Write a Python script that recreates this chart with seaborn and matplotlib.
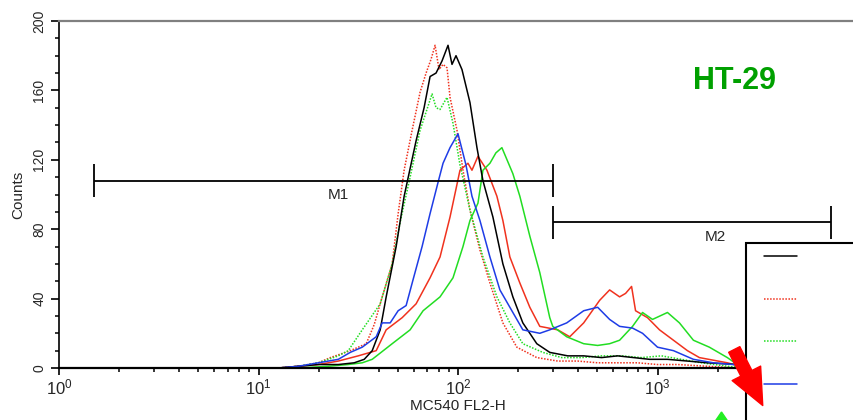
import matplotlib
matplotlib.use("Agg")
import matplotlib.pyplot as plt
from matplotlib.patches import FancyArrowPatch, Polygon
from matplotlib.lines import Line2D
from matplotlib.legend_handler import HandlerLine2D
from matplotlib.ticker import FixedLocator, LogLocator, MultipleLocator
import seaborn as sns
import pandas as pd
import numpy as np

# ---- data (x as log10 of FL2-H channel, y = counts) ----
black_log = [0.0, 1.10, 1.20, 1.30, 1.40, 1.48, 1.53, 1.57, 1.61, 1.64, 1.69, 1.73, 1.79, 1.83,
             1.86, 1.89, 1.92, 1.95, 1.97, 1.99, 2.02, 2.06, 2.095, 2.125, 2.175, 2.225, 2.275,
             2.325, 2.395, 2.46, 2.55, 2.63, 2.72, 2.80, 2.88, 2.96, 3.05, 3.15, 3.25, 3.40, 3.55]
black_cnt = [0, 0, 1, 2, 2, 3, 5, 10, 22, 41, 70, 99, 131, 150, 168, 170, 177, 186, 175, 180,
             172, 153, 127, 108, 87, 60, 41, 26, 14, 9, 7, 7, 6, 7, 6, 5, 5, 4, 3, 2, 0]

reddot_log = [0.0, 1.10, 1.20, 1.30, 1.36, 1.46, 1.54, 1.58, 1.62, 1.67, 1.70, 1.73, 1.77, 1.81,
              1.84, 1.865, 1.885, 1.905, 1.925, 1.945, 1.96, 1.995, 2.025, 2.06, 2.11, 2.16,
              2.225, 2.295, 2.395, 2.50, 2.60, 2.70, 2.80, 2.90, 3.00, 3.10, 3.25, 3.40]
reddot_cnt = [0, 0, 1, 3, 6, 10, 14, 25, 41, 60, 89, 114, 137, 159, 170, 178, 186, 172, 175, 173,
              156, 137, 114, 91, 68, 49, 26, 12, 6, 4, 4, 3, 3, 3, 2, 2, 1, 0]

greendot_log = [0.0, 1.10, 1.20, 1.30, 1.40, 1.45, 1.52, 1.61, 1.67, 1.71, 1.76, 1.81, 1.87, 1.89,
                1.91, 1.945, 1.975, 2.01, 2.06, 2.125, 2.195, 2.26, 2.325, 2.425, 2.52, 2.62,
                2.72, 2.82, 2.92, 3.02, 3.12, 3.22, 3.35, 3.45]
greendot_cnt = [0, 0, 1, 3, 7, 10, 22, 37, 60, 84, 110, 137, 158, 150, 149, 156, 141, 117, 91,
                64, 41, 26, 14, 9, 6, 6, 7, 7, 6, 7, 5, 3, 1, 0]

blue_log = [0.0, 1.10, 1.20, 1.30, 1.40, 1.46, 1.52, 1.59, 1.62, 1.66, 1.70, 1.74, 1.775, 1.82,
            1.86, 1.90, 1.925, 1.96, 2.00, 2.04, 2.07, 2.11, 2.16, 2.21, 2.275, 2.325, 2.41,
            2.46, 2.545, 2.63, 2.70, 2.76, 2.81, 2.875, 2.925, 3.00, 3.08, 3.18, 3.28, 3.38, 3.50]
blue_cnt = [0, 0, 1, 3, 5, 9, 12, 18, 26, 26, 33, 36, 51, 70, 89, 107, 118, 127, 135, 117, 99,
            85, 64, 45, 32, 22, 20, 22, 26, 33, 35, 28, 24, 23, 20, 12, 10, 5, 3, 2, 0]

red_log = [0.0, 1.10, 1.20, 1.30, 1.40, 1.50, 1.59, 1.64, 1.72, 1.79, 1.86, 1.91, 1.96, 2.01,
           2.05, 2.07, 2.10, 2.145, 2.195, 2.225, 2.26, 2.31, 2.36, 2.41, 2.50, 2.56, 2.63,
           2.71, 2.76, 2.81, 2.84, 2.87, 2.89, 2.95, 3.01, 3.08, 3.15, 3.21, 3.35, 3.45]
red_cnt = [0, 0, 1, 2, 4, 7, 10, 22, 29, 37, 52, 64, 87, 114, 118, 114, 122, 114, 99, 85, 64,
           49, 35, 24, 22, 18, 26, 39, 45, 41, 43, 47, 33, 29, 22, 16, 10, 6, 3, 0]

green_log = [0.0, 1.20, 1.35, 1.45, 1.52, 1.57, 1.67, 1.76, 1.825, 1.91, 1.975, 2.025, 2.06,
             2.10, 2.125, 2.16, 2.19, 2.22, 2.275, 2.31, 2.36, 2.41, 2.46, 2.475, 2.545, 2.63,
             2.70, 2.76, 2.81, 2.875, 2.925, 2.975, 3.05, 3.11, 3.18, 3.26, 3.35, 3.40, 3.50]
green_cnt = [0, 0, 1, 2, 3, 5, 14, 22, 33, 41, 52, 70, 85, 95, 114, 118, 124, 127, 112, 99, 76,
             55, 29, 24, 18, 14, 13, 14, 16, 24, 32, 28, 32, 26, 16, 12, 6, 2, 0]

# marker gates M1 / M2: (start, end) in FL2-H, bar level and label position
m1_range = (1.5, 299)
m1_level = 108
m1_label_x = 25
m2_range = (299, 7400)
m2_level = 84
m2_label_x = 1950

x_ticks = [1, 10, 100, 1000]
y_ticks = [0, 40, 80, 120, 160, 200]

series = [
    ("ctrl", black_log, black_cnt, "#000000", "-"),
    ("ctrl dotted", reddot_log, reddot_cnt, "#F0321E", (0, (1, 1))),
    ("ctrl green", greendot_log, greendot_cnt, "#22DD22", (0, (1, 1))),
    ("blue", blue_log, blue_cnt, "#1E3CE6", "-"),
    ("red", red_log, red_cnt, "#F0321E", "-"),
    ("green", green_log, green_cnt, "#22DD22", "-"),
]

sns.set_theme(style="ticks")
plt.rcParams["font.family"] = ["Liberation Sans", "DejaVu Sans"]

fig = plt.figure(figsize=(8.54, 4.20), dpi=100)
ax = fig.add_axes([59 / 854, 52 / 420, 798 / 854, 347 / 420])

handles = {}
draw_order = ["ctrl dotted", "ctrl green", "red", "green", "ctrl", "blue"]
lookup = {s[0]: s for s in series}
for name in draw_order:
    _, lx, cnt, col, ls = lookup[name]
    df = pd.DataFrame({"fl2": np.power(10.0, lx), "count": cnt})
    n_before = len(ax.lines)
    sns.lineplot(data=df, x="fl2", y="count", ax=ax, color=col, linestyle=ls,
                 linewidth=1.1, legend=False, errorbar=None)
    handles[name] = ax.lines[n_before]

ax.set_xscale("log")
ax.set_xlim(1, 1e4)
ax.set_ylim(0, 200)

# gates
cap = 9.5
for (a, b), lvl, lx_, lab in [(m1_range, m1_level, m1_label_x, "M1"),
                              (m2_range, m2_level, m2_label_x, "M2")]:
    ax.hlines(lvl, a, b, color="black", lw=1.3)
    ax.vlines([a, b], lvl - cap, lvl + cap, color="black", lw=1.3)
    ax.text(lx_, lvl - 4.5, lab, ha="center", va="top", fontsize=11)

ax.yaxis.set_major_locator(FixedLocator(y_ticks))
ax.yaxis.set_minor_locator(MultipleLocator(10))
ax.xaxis.set_major_locator(FixedLocator(x_ticks))
ax.xaxis.set_minor_locator(LogLocator(base=10, subs=np.arange(2, 10), numticks=20))
ax.set_xticklabels([rf"$\mathdefault{{10^{{{int(np.log10(t))}}}}}$" for t in x_ticks])
ax.set_yticklabels([str(t) for t in y_ticks], rotation=90, va="center")
ax.tick_params(axis="y", which="major", length=6, width=1.2, labelsize=10, pad=3, color="black")
ax.tick_params(axis="y", which="minor", length=3, width=1.1, color="black")
ax.tick_params(axis="x", which="major", length=5, width=1.2, labelsize=12, pad=2, color="black")
ax.tick_params(axis="x", which="minor", length=3, width=1.1, color="black")

ax.set_xlabel("MC540 FL2-H", fontsize=11, labelpad=1)
ax.set_ylabel("Counts", fontsize=11, labelpad=5)

ax.spines["right"].set_visible(False)
ax.spines["top"].set_color("#808080")
ax.spines["top"].set_linewidth(1.6)
ax.spines["left"].set_color("black")
ax.spines["left"].set_linewidth(1.2)
ax.spines["bottom"].set_color("black")
ax.spines["bottom"].set_linewidth(1.6)
ax.grid(False)

fig.text(735 / 854, 1 - 81 / 420, "HT-29", color="#00A000", fontsize=22,
         fontweight="bold", ha="center", va="center")

leg_order = ["ctrl", "ctrl dotted", "ctrl green", "blue", "red", "green"]
leg = fig.legend([handles[k] for k in leg_order], [""] * len(leg_order),
                 loc="upper left", bbox_to_anchor=(746 / 854, 1 - 243 / 420),
                 bbox_transform=fig.transFigure, borderaxespad=0, fontsize=10,
                 handlelength=3.2, handletextpad=5, labelspacing=2.05, borderpad=0.5,
                 handler_map={Line2D: HandlerLine2D(xpad=0.8)},
                 frameon=True, fancybox=False, framealpha=1, edgecolor="black")
leg.get_frame().set_linewidth(1.5)
leg.set_zorder(5)


def fx(px):
    return px / 854


def fy(py):
    return 1 - py / 420


arrow = FancyArrowPatch((fx(733), fy(347)), (fx(764), fy(408)), transform=fig.transFigure,
                        arrowstyle="simple,head_length=1.3,head_width=1.15,tail_width=0.45",
                        mutation_scale=20, color="#FF0000", zorder=10)
fig.add_artist(arrow)
tri = Polygon([(fx(714), fy(423)), (fx(729), fy(423)), (fx(721.5), fy(412))],
              closed=True, transform=fig.transFigure, color="#22EE22", zorder=10)
fig.add_artist(tri)

fig.savefig("out.png", dpi=100)
